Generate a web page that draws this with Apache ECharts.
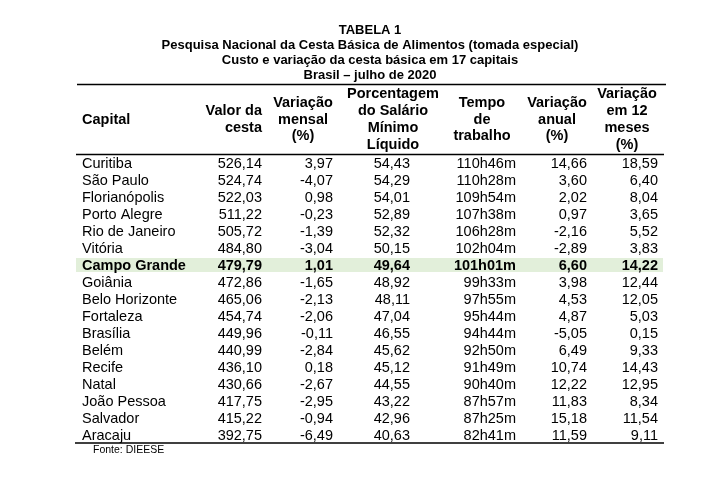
<!DOCTYPE html>
<html>
<head>
<meta charset="utf-8">
<script src="https://cdn.jsdelivr.net/npm/echarts@6/dist/echarts.min.js"></script>
<style>html,body{margin:0;padding:0;background:#fff}#c{width:716px;height:484px}</style>
</head>
<body>
<div id="c"></div>
<script>
// ---- data ----
var titleLines = ['TABELA 1',
  'Pesquisa Nacional da Cesta Básica de Alimentos (tomada especial)',
  'Custo e variação da cesta básica em 17 capitais',
  'Brasil – julho de 2020'];
var capitals = ['Curitiba','São Paulo','Florianópolis','Porto Alegre','Rio de Janeiro','Vitória','Campo Grande','Goiânia','Belo Horizonte','Fortaleza','Brasília','Belém','Recife','Natal','João Pessoa','Salvador','Aracaju'];
var valorCesta = [526.14,524.74,522.03,511.22,505.72,484.80,479.79,472.86,465.06,454.74,449.96,440.99,436.10,430.66,417.75,415.22,392.75];
var variacaoMensal = [3.97,-4.07,0.98,-0.23,-1.39,-3.04,1.01,-1.65,-2.13,-2.06,-0.11,-2.84,0.18,-2.67,-2.95,-0.94,-6.49];
var porcentagemSalario = [54.43,54.29,54.01,52.89,52.32,50.15,49.64,48.92,48.11,47.04,46.55,45.62,45.12,44.55,43.22,42.96,40.63];
var tempoTrabalho = ['110h46m','110h28m','109h54m','107h38m','106h28m','102h04m','101h01m','99h33m','97h55m','95h44m','94h44m','92h50m','91h49m','90h40m','87h57m','87h25m','82h41m'];
var variacaoAnual = [14.66,3.60,2.02,0.97,-2.16,-2.89,6.60,3.98,4.53,4.87,-5.05,6.49,10.74,12.22,11.83,15.18,11.59];
var variacao12m = [18.59,6.40,8.04,3.65,5.52,3.83,14.22,12.44,12.05,5.03,0.15,9.33,14.43,12.95,8.34,11.54,9.11];
var headers = ['Capital','Valor da\ncesta','Variação\nmensal\n(%)','Porcentagem\ndo Salário\nMínimo\nLíquido','Tempo\nde\ntrabalho','Variação\nanual\n(%)','Variação\nem 12\nmeses\n(%)'];
var highlightCapital = 'Campo Grande';
var sourceNote = 'Fonte: DIEESE';

// ---- layout / style ----
var FONT = '"Liberation Sans", Arial, sans-serif';
var colAnchor = [82, 262, 333, 410, 516, 587, 658];
var colAlign  = ['left','right','right','right','right','right','right'];
var headX = [82, 262, 303, 393, 482, 557, 627];
var headAlign = ['left','right','center','center','center','center','center'];
var headY = [120, 119.5, 119.5, 119.5, 119.5, 119.5, 119.5];

function fmt(v){ return v.toFixed(2).replace('.', ','); }

var chart = echarts.init(document.getElementById('c'), null, {renderer:'canvas'});

var graphics = [];
titleLines.forEach(function(t,i){
  graphics.push({type:'text', left:null, x:370, y:30+i*15,
    style:{text:t, fill:'#000', font:'bold 13px '+FONT, textAlign:'center', textVerticalAlign:'middle'}});
});
headers.forEach(function(h,i){
  graphics.push({type:'text', x:headX[i], y:headY[i],
    style:{text:h, fill:'#000', font:'bold 14.5px '+FONT, textAlign:headAlign[i], textVerticalAlign:'middle', lineHeight:16.7}});
});
graphics.push({type:'line', shape:{x1:77,y1:84.5,x2:666,y2:84.5}, style:{stroke:'#000', lineWidth:1.3}});
graphics.push({type:'line', shape:{x1:76,y1:154.5,x2:664,y2:154.5}, style:{stroke:'#000', lineWidth:1.3}});
graphics.push({type:'line', shape:{x1:75,y1:443,x2:664,y2:443}, style:{stroke:'#000', lineWidth:1.3}});
graphics.push({type:'text', x:93, y:450,
  style:{text:sourceNote, fill:'#000', font:'10.5px '+FONT, textAlign:'left', textVerticalAlign:'middle'}});

var rows = capitals.map(function(c,i){ return [0, c]; });

chart.setOption({
  animation:false,
  grid:{left:76, right:54, top:154.5, height:289},
  xAxis:{type:'value', min:0, max:1, show:false},
  yAxis:{type:'category', data:capitals, inverse:true, show:false},
  graphic: graphics,
  series:[{
    type:'custom',
    data: rows,
    renderItem:function(params, api){
      var i = params.dataIndex;
      var p = api.coord([0, i]);
      var y = p[1];
      var bold = capitals[i] === highlightCapital;
      var vals = [capitals[i], fmt(valorCesta[i]), fmt(variacaoMensal[i]), fmt(porcentagemSalario[i]), tempoTrabalho[i], fmt(variacaoAnual[i]), fmt(variacao12m[i])];
      var children = [];
      if (bold) {
        var x0 = params.coordSys.x, w = params.coordSys.width;
        children.push({type:'rect', shape:{x:x0, y:y-7, width:w+1, height:14}, style:{fill:'#e2efda'}});
      }
      vals.forEach(function(v,k){
        children.push({type:'text', x:colAnchor[k], y:y+0.5,
          style:{text:v, fill:'#000', font:(bold?'bold ':'')+'14.5px '+FONT, textAlign:colAlign[k], textVerticalAlign:'middle'}});
      });
      return {type:'group', children:children};
    }
  }]
});
</script>
</body>
</html>
